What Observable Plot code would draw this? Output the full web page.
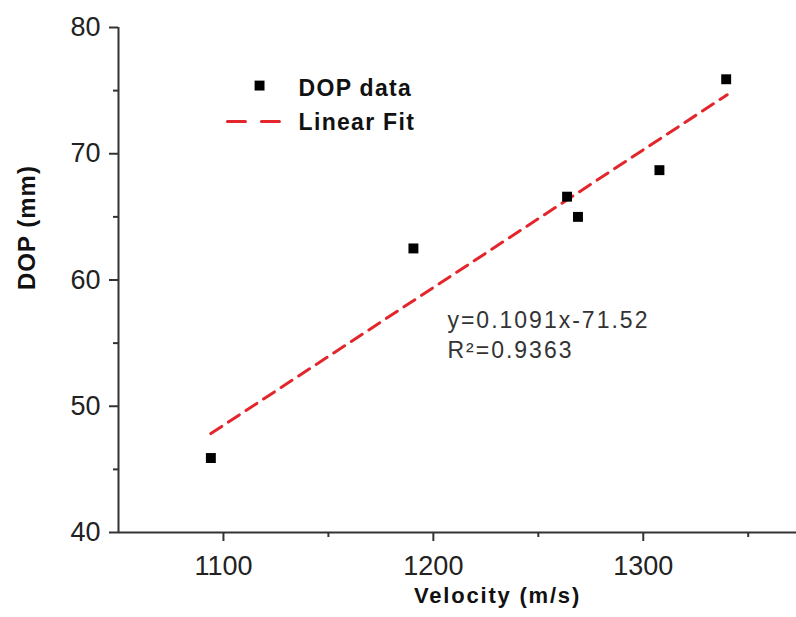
<!DOCTYPE html>
<html><head><meta charset="utf-8">
<script src="https://cdn.jsdelivr.net/npm/d3@7"></script>
<script src="https://cdn.jsdelivr.net/npm/@observablehq/plot@0.6"></script>
<style>
body{margin:0;background:#fff}
#chart svg{font-family:"Liberation Sans",Arial,sans-serif;background:#fff}
g[aria-description="xlabel"] text{letter-spacing:1.8px}
g[aria-description="ylabel"] text{letter-spacing:1px}
g[aria-description="legend"] text{letter-spacing:1.3px}
g[aria-description="annotation"] text{letter-spacing:2px}
</style></head><body><div id="chart"></div>
<script>
// Data
const velocity = [1094, 1190.5, 1263.7, 1268.9, 1307.7, 1339.5];
const dop = [45.9, 62.5, 66.6, 65.0, 68.7, 75.9];
// Linear fit as stated in the chart
const fitSlope = 0.1091;
const fitIntercept = -71.52;
const fitXRange = [1094, 1340];
// Axes
const xDomain = [1050, 1373];
const yDomain = [40, 80];
const xTicks = [1100, 1200, 1300];
const xMinorTicks = [1150, 1250, 1350];
const yTicks = [40, 50, 60, 70, 80];
const yMinorTicks = [45, 55, 65, 75];
const xLabel = "Velocity (m/s)";
const yLabel = "DOP (mm)";
// Legend & annotation (positions in data units)
const legendLabels = ["DOP data", "Linear Fit"];
const legendSymbolX = [1117.2];
const legendSymbolY = [75.4];
const legendLineX = [1101.9, 1128.6];
const legendLineY = [72.55, 72.55];
const legendTextX = [1135.8, 1135.8];
const legendTextY = [74.61, 71.9];
const annotationLines = ["y=0.1091x-71.52", "R\u00B2=0.9363"];
const annotationX = [1206.7];
const annotationY = [53.86];

const points = velocity.map((v, i) => ({v, d: dop[i]}));
const fit = fitXRange.map(v => ({v, d: fitSlope * v + fitIntercept}));
const legendLine = legendLineX.map((v, i) => ({v, d: legendLineY[i]}));
const legendText = legendLabels.map((t, i) => ({t, v: legendTextX[i], d: legendTextY[i]}));

const red = "#e3262c";
const axisColor = "#333";

const chart = Plot.plot({
  width: 796,
  height: 617,
  marginLeft: 118,
  marginRight: 0,
  marginTop: 27,
  marginBottom: 85,
  x: {domain: xDomain},
  y: {domain: yDomain},
  marks: [
    Plot.ruleX([xDomain[0]], {stroke: axisColor, strokeWidth: 2}),
    Plot.ruleY([yDomain[0]], {stroke: axisColor, strokeWidth: 2}),
    Plot.axisX(xTicks, {tickSize: 9, tickPadding: 14, fontSize: 27, stroke: axisColor, strokeWidth: 2, fill: "#222", tickFormat: "d", label: null}),
    Plot.axisX(xMinorTicks, {tickSize: 5, stroke: axisColor, strokeWidth: 2, tickFormat: () => "", label: null}),
    Plot.axisY(yTicks, {tickSize: 9, tickPadding: 9, fontSize: 27, stroke: axisColor, strokeWidth: 2, fill: "#222", tickFormat: "d", label: null}),
    Plot.axisY(yMinorTicks, {tickSize: 5, stroke: axisColor, strokeWidth: 2, tickFormat: () => "", label: null}),
    Plot.line(fit, {x: "v", y: "d", stroke: red, strokeWidth: 3, strokeDasharray: "13,8"}),
    Plot.dot(points, {x: "v", y: "d", symbol: "square", r: 5.6, fill: "black", stroke: "none"}),
    // legend
    Plot.dot(legendSymbolX.map((v, i) => ({v, d: legendSymbolY[i]})), {x: "v", y: "d", symbol: "square", r: 5.6, fill: "black", stroke: "none"}),
    Plot.line(legendLine, {x: "v", y: "d", stroke: red, strokeWidth: 3, strokeDasharray: "18,16"}),
    Plot.text(legendText, {x: "v", y: "d", text: "t", textAnchor: "start", lineAnchor: "bottom", fontSize: 23, fontWeight: "bold", fill: "#111", ariaDescription: "legend"}),
    // annotation
    Plot.text([annotationLines.join("\n")], {x: annotationX, y: annotationY, text: d => d, textAnchor: "start", lineAnchor: "bottom", lineHeight: 1.27, fontSize: 23, fill: "#333", ariaDescription: "annotation"}),
    // axis labels
    Plot.text([xLabel], {frameAnchor: "bottom", dx: 40, dy: 70, fontSize: 22, fontWeight: "bold", fill: "#111", ariaDescription: "xlabel"}),
    Plot.text([yLabel], {frameAnchor: "left", dx: -91, dy: 10, rotate: -90, fontSize: 24, fontWeight: "bold", fill: "#111", ariaDescription: "ylabel"})
  ]
});
document.getElementById("chart").appendChild(chart);
</script></body></html>
